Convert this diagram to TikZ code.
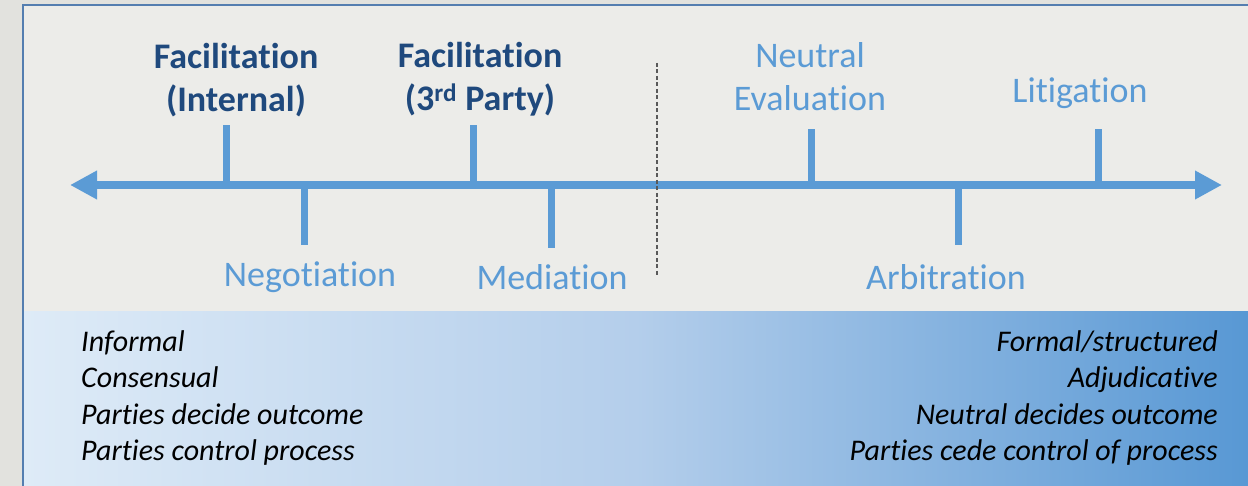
\documentclass[tikz,border=0pt]{standalone}
\usepackage{fontspec}
\setmainfont{Carlito}[Ligatures={NoCommon}]
\usetikzlibrary{arrows.meta}
\definecolor{tickblue}{RGB}{91,155,213}
\definecolor{darkblue}{RGB}{31,73,125}
\definecolor{framecol}{RGB}{84,126,176}
\definecolor{bggrey}{RGB}{236,236,233}
\definecolor{outgrey}{RGB}{226,226,222}
\definecolor{gradL}{RGB}{222,235,247}
\definecolor{gradM}{RGB}{180,206,235}
\definecolor{gradR}{RGB}{88,152,212}
\begin{document}
\begin{tikzpicture}[x=1pt,y=-1pt,
  tick/.style={draw=tickblue,line width=7pt},
  boldlab/.style={font=\fontsize{36}{43}\selectfont\bfseries,text=darkblue,align=center,inner sep=0pt},
  lab/.style={font=\fontsize{36}{43}\selectfont,text=tickblue,align=center,inner sep=0pt},
  side/.style={font=\fontsize{30}{36}\selectfont\itshape,text=black,inner sep=0pt}]
\useasboundingbox (0,0) rectangle (1248,486);
\fill[outgrey] (0,0) rectangle (1248,486);
\fill[bggrey] (23,5) rectangle (1248,312);
\shade[left color=gradL,right color=gradR,middle color=gradM] (23,312) rectangle (1248,486);
\draw[framecol,line width=1.5pt] (1248,5) -- (23,5) -- (23,486);
% axis
\coordinate (lend) at (70,185);
\coordinate (rend) at (1222,185);
\draw[tickblue,line width=8pt,{Triangle[length=27pt,width=27pt]}-{Triangle[length=27pt,width=27pt]}] (lend) -- (rend);
% ticks
\coordinate (a1) at (226,185); \coordinate (b1) at (226,125);
\coordinate (a2) at (304,185); \coordinate (b2) at (304,245);
\coordinate (a3) at (473,185); \coordinate (b3) at (473,125);
\coordinate (a4) at (551,185); \coordinate (b4) at (551,248);
\coordinate (a5) at (811,185); \coordinate (b5) at (811,129);
\coordinate (a6) at (958,185); \coordinate (b6) at (958,245);
\coordinate (a7) at (1098,185); \coordinate (b7) at (1098,129);
\foreach \i in {1,...,7}{\draw[tick] (a\i) -- (b\i);}
% divider
\coordinate (d1) at (657,63); \coordinate (d2) at (657,275);
\draw[gray!70!black,line width=1.2pt,dash pattern=on 4pt off 2.5pt] (d1) -- (d2);
% labels
\node[boldlab] (fi) at (236,80) {Facilitation\\(Internal)};
\node[boldlab] (f3) at (480,79) {Facilitation\\(3\textsuperscript{rd} Party)};
\node[lab] (ne) at (810,77) {Neutral\\Evaluation};
\node[lab] (li) at (1080,93) {Litigation};
\node[lab] (ng) at (310,277) {Negotiation};
\node[lab] (me) at (552,277) {Mediation};
\node[lab] (ar) at (946,277) {Arbitration};
% side texts
\node[side,anchor=base west] (l1) at (81,352) {Informal};
\node[side,anchor=base west] (l2) at (81,388) {Consensual};
\node[side,anchor=base west] (l3) at (81,424) {Parties decide outcome};
\node[side,anchor=base west] (l4) at (81,460) {Parties control process};
\node[side,anchor=base east] (r1) at (1218,352) {Formal/structured};
\node[side,anchor=base east] (r2) at (1218,388) {Adjudicative};
\node[side,anchor=base east] (r3) at (1218,424) {Neutral decides outcome};
\node[side,anchor=base east] (r4) at (1218,460) {Parties cede control of process};
\end{tikzpicture}
\end{document}
